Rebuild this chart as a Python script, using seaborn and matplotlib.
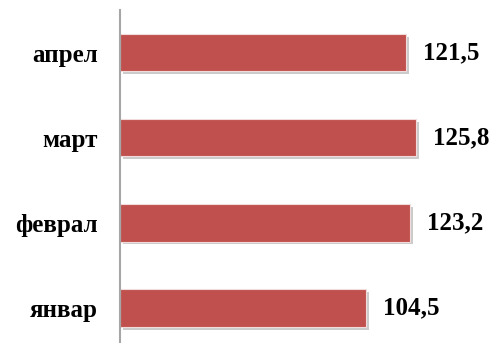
import matplotlib
matplotlib.use("Agg")
import matplotlib.pyplot as plt
import matplotlib.patheffects as pe
import seaborn as sns
import pandas as pd

# Податоци
meseci = ["апрел", "март", "феврал", "январ"]
vrednosti = [121.5, 125.8, 123.2, 104.5]
etiketi = ["121,5", "125,8", "123,2", "104,5"]

sns.set_style("white")
plt.rcParams["font.family"] = ["Liberation Serif", "DejaVu Serif"]

df = pd.DataFrame({"mesec": meseci, "vrednost": vrednosti})

fig = plt.figure(figsize=(4.97, 3.43), dpi=100)
ax = fig.add_axes([120 / 497, 0, 377 / 497, 333 / 343])

sns.barplot(data=df, y="mesec", x="vrednost", orient="h", color="#C0504D",
            saturation=1, width=0.44, edgecolor="#f2dcdb", linewidth=0.8, ax=ax)

for bar in ax.patches:
    bar.set_path_effects([pe.SimplePatchShadow(offset=(2, -2), shadow_rgbFace="#999999", alpha=0.5),
                          pe.Normal()])

for i, (v, t) in enumerate(zip(vrednosti, etiketi)):
    ax.text(v + 7.2, i, t, va="center", ha="left", fontsize=18, fontweight="bold", color="black")

ax.set_xlim(0, 160)
ax.set_ylim(3.41, -0.5)
ax.set_xlabel("")
ax.set_ylabel("")
ax.set_xticks([])
ax.tick_params(axis="y", length=0, pad=16, labelcolor="black")
for lbl in ax.get_yticklabels():
    lbl.set_fontsize(18)
    lbl.set_fontweight("bold")

for s in ["top", "right", "bottom"]:
    ax.spines[s].set_visible(False)
ax.spines["left"].set_color("#a6a6a6")
ax.spines["left"].set_linewidth(1.5)

fig.savefig("out.png", dpi=100)
